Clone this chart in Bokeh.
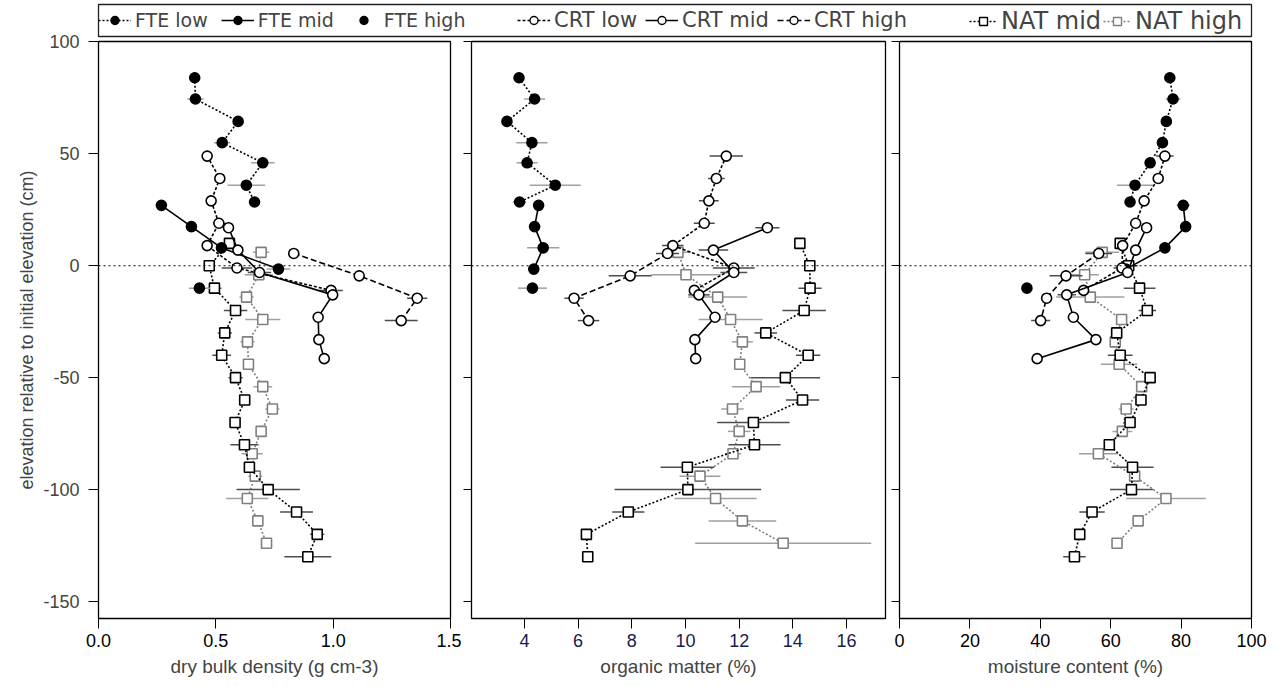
from bokeh.plotting import figure
from bokeh.models import (ColumnDataSource, FixedTicker, Legend, LegendItem, Span, Range1d, Title,
                          CustomLabelingPolicy)
from bokeh.layouts import column, row
from bokeh.embed import file_html
from bokeh.resources import INLINE

# ---------------- depths (elevation relative to initial elevation, cm) ----------------
fte_low_depth = [84, 74.5, 64.5, 55, 46, 36, 28.5]
fte_mid_depth = [27, 17.5, 8, -1.5]
fte_high_depth = [-10]
crt_low_depth = [49, 39, 29, 19, 9, -1, -11]
crt_mid_depth = [17, 7, -3, -13, -23, -33, -41.5]
crt_high_depth = [5.5, -4.5, -14.5, -24.5]
nat_mid_depth = [10, 0, -10, -20, -30, -40, -50, -60, -70, -80, -90, -100, -110, -120, -130]
nat_high_depth = [6, -4, -14, -24, -34, -44, -54, -64, -74, -84, -94, -104, -114, -124]

# ---------------- dry bulk density (g cm-3) ----------------
bd_fte_low = [0.41, 0.413, 0.595, 0.527, 0.70, 0.63, 0.665]
bd_fte_low_err = [0.01, 0.035, 0.01, 0.035, 0.05, 0.08, 0.01]
bd_fte_mid = [0.268, 0.396, 0.524, 0.767]
bd_fte_mid_err = [0.01, 0.01, 0.02, 0.05]
bd_fte_high = [0.43]
bd_fte_high_err = [0.045]
bd_crt_low = [0.463, 0.517, 0.48, 0.513, 0.463, 0.59, 0.991]
bd_crt_low_err = [0.005, 0.02, 0.005, 0.025, 0.01, 0.065, 0.05]
bd_crt_mid = [0.554, 0.594, 0.686, 0.998, 0.936, 0.939, 0.962]
bd_crt_mid_err = [0.01, 0.01, 0.05, 0.02, 0.01, 0.01, 0.01]
bd_crt_high = [0.832, 1.111, 1.358, 1.29]
bd_crt_high_err = [0.02, 0.02, 0.043, 0.07]
bd_nat_mid = [0.558, 0.472, 0.494, 0.584, 0.538, 0.525, 0.584, 0.623, 0.582, 0.622, 0.643, 0.723, 0.844, 0.932, 0.892]
bd_nat_mid_err = [0.01, 0.01, 0.03, 0.05, 0.03, 0.04, 0.03, 0.02, 0.01, 0.06, 0.01, 0.135, 0.07, 0.03, 0.1]
bd_nat_high = [0.693, 0.683, 0.631, 0.70, 0.635, 0.639, 0.70, 0.741, 0.693, 0.655, 0.668, 0.634, 0.679, 0.716]
bd_nat_high_err = [0.035, 0.06, 0.03, 0.075, 0.03, 0.02, 0.04, 0.03, 0.02, 0.045, 0.03, 0.09, 0.01, 0.01]

# ---------------- organic matter (%) ----------------
om_fte_low = [3.80, 4.38, 3.35, 4.28, 4.10, 5.15, 3.82]
om_fte_low_err = [0.05, 0.39, 0.1, 0.58, 0.39, 0.95, 0.25]
om_fte_mid = [4.53, 4.38, 4.70, 4.35]
om_fte_mid_err = [0.1, 0.22, 0.6, 0.2]
om_fte_high = [4.30]
om_fte_high_err = [0.54]
om_crt_low = [11.52, 11.15, 10.87, 10.70, 9.53, 11.80, 10.33]
om_crt_low_err = [0.62, 0.31, 0.37, 0.39, 0.4, 0.78, 0.2]
om_crt_mid = [13.05, 11.04, 11.80, 10.50, 11.10, 10.35, 10.38]
om_crt_mid_err = [0.45, 0.55, 0.5, 0.4, 0.2, 0.1, 0.1]
om_crt_high = [9.33, 7.94, 5.85, 6.39]
om_crt_high_err = [0.43, 0.8, 0.36, 0.4]
om_nat_mid = [14.26, 14.63, 14.64, 14.42, 12.99, 14.57, 13.72, 14.36, 12.53, 12.57, 10.07, 10.09, 7.87, 6.31, 6.36]
om_nat_mid_err = [0.1, 0.2, 0.43, 0.81, 0.42, 0.45, 1.29, 0.62, 1.35, 0.97, 1.0, 2.73, 0.6, 0.1, 0.1]
om_nat_high = [9.72, 10.02, 11.20, 11.68, 12.12, 12.02, 12.63, 11.75, 12.00, 11.77, 10.54, 11.12, 12.12, 13.64]
om_nat_high_err = [0.5, 1.3, 1.1, 1.19, 0.39, 0.2, 0.9, 0.42, 0.42, 0.3, 0.76, 1.53, 1.26, 3.28]

# ---------------- moisture content (%) ----------------
mc_fte_low = [76.8, 77.7, 75.8, 74.7, 71.2, 66.9, 65.5]
mc_fte_low_err = [0.5, 2.1, 0.5, 0.5, 0.8, 5.1, 0.5]
mc_fte_mid = [80.6, 81.3, 75.4, 64.3]
mc_fte_mid_err = [1.9, 0.5, 0.5, 1.0]
mc_fte_high = [36.2]
mc_fte_high_err = [0.5]
mc_crt_low = [75.4, 73.5, 69.5, 67.1, 63.4, 63.2, 52.3]
mc_crt_low_err = [2.5, 0.5, 0.5, 0.5, 1.0, 2.4, 0.5]
mc_crt_mid = [70.2, 67.1, 64.8, 47.5, 49.4, 55.8, 39.1]
mc_crt_mid_err = [0.5, 0.5, 1.0, 2.6, 0.5, 0.5, 0.5]
mc_crt_high = [56.6, 47.3, 41.8, 40.1]
mc_crt_high_err = [3.8, 4.7, 1.0, 2.7]
mc_nat_mid = [62.7, 65.1, 68.2, 70.4, 61.7, 62.7, 71.2, 68.6, 65.5, 59.6, 66.2, 65.9, 54.7, 51.2, 49.7]
mc_nat_mid_err = [0.3, 2.6, 4.5, 2.5, 1.0, 3.5, 0.8, 0.5, 0.5, 0.5, 6.0, 6.1, 3.6, 1.3, 3.2]
mc_nat_high = [57.6, 52.6, 54.2, 63.1, 61.3, 62.4, 68.8, 64.4, 63.3, 56.5, 66.8, 75.7, 67.8, 61.8]
mc_nat_high_err = [4.8, 4.0, 9.7, 1.2, 0.5, 5.2, 0.5, 2.1, 2.8, 5.5, 1.0, 11.3, 0.3, 0.3]

# ---------------- axis text ----------------
y_ticks = [100, 50, 0, -50, -100, -150]
y_tick_labels = {100: "100", 50: "50", 0: "0", -50: "-50", -100: "-100", -150: "-150"}
bd_ticks = [0.0, 0.5, 1.0, 1.5]
bd_tick_labels = {0.0: "0.0", 0.5: "0.5", 1.0: "1.0", 1.5: "1.5"}
om_ticks = [4, 6, 8, 10, 12, 14, 16]
mc_ticks = [0, 20, 40, 60, 80, 100]
y_title = "elevation relative to initial elevation (cm)"
bd_title = "dry bulk density (g cm-3)"
om_title = "organic matter (%)"
mc_title = "moisture content (%)"

BLACK = "#000000"
GREY = "#808080"
EB_BLACK = "#4d4d4d"
EB_GREY = "#a0a0a0"
AX_FONT = "Liberation Sans"

# style per series: (label, depth, colour, dash, marker, fill, error bar colour) - drawing order
styles = [
    ("NAT high", nat_high_depth, GREY, "2 2", "square", "white", EB_GREY),
    ("NAT mid", nat_mid_depth, BLACK, "2 2", "square", "white", EB_BLACK),
    ("FTE low", fte_low_depth, BLACK, "2 2", "circle", BLACK, EB_GREY),
    ("FTE mid", fte_mid_depth, BLACK, "solid", "circle", BLACK, EB_GREY),
    ("FTE high", fte_high_depth, BLACK, "none", "circle", BLACK, EB_GREY),
    ("CRT low", crt_low_depth, BLACK, "3 2", "circle", "white", EB_BLACK),
    ("CRT mid", crt_mid_depth, BLACK, "solid", "circle", "white", EB_BLACK),
    ("CRT high", crt_high_depth, BLACK, "6 3", "circle", "white", EB_BLACK),
]

bd_data = {"NAT high": (bd_nat_high, bd_nat_high_err), "NAT mid": (bd_nat_mid, bd_nat_mid_err),
           "CRT low": (bd_crt_low, bd_crt_low_err), "CRT mid": (bd_crt_mid, bd_crt_mid_err),
           "CRT high": (bd_crt_high, bd_crt_high_err), "FTE low": (bd_fte_low, bd_fte_low_err),
           "FTE mid": (bd_fte_mid, bd_fte_mid_err), "FTE high": (bd_fte_high, bd_fte_high_err)}
om_data = {"NAT high": (om_nat_high, om_nat_high_err), "NAT mid": (om_nat_mid, om_nat_mid_err),
           "CRT low": (om_crt_low, om_crt_low_err), "CRT mid": (om_crt_mid, om_crt_mid_err),
           "CRT high": (om_crt_high, om_crt_high_err), "FTE low": (om_fte_low, om_fte_low_err),
           "FTE mid": (om_fte_mid, om_fte_mid_err), "FTE high": (om_fte_high, om_fte_high_err)}
mc_data = {"NAT high": (mc_nat_high, mc_nat_high_err), "NAT mid": (mc_nat_mid, mc_nat_mid_err),
           "CRT low": (mc_crt_low, mc_crt_low_err), "CRT mid": (mc_crt_mid, mc_crt_mid_err),
           "CRT high": (mc_crt_high, mc_crt_high_err), "FTE low": (mc_fte_low, mc_fte_low_err),
           "FTE mid": (mc_fte_mid, mc_fte_mid_err), "FTE high": (mc_fte_high, mc_fte_high_err)}

hide_labels = CustomLabelingPolicy(code="""
    const ids = Array.from(indices)
    for (const i of ids) { indices.unset(i) }
""")

PLOT_H = 658      # plots overlap the legend strip by 12 px (transparent border)
TOP = 12


def make_panel(xr, xticks, xtitle, xtitle_offset, data, width, bl, br, first, xlabel_color, xoverrides=None):
    p = figure(width=width, height=PLOT_H, x_range=Range1d(*xr), y_range=Range1d(-157.6, 100.2),
               toolbar_location=None, output_backend="svg",
               min_border_left=bl, min_border_right=br, min_border_top=TOP, min_border_bottom=69)
    p.xgrid.visible = False
    p.ygrid.visible = False
    p.outline_line_color = BLACK
    p.outline_line_width = 1.3
    p.background_fill_color = "white"
    p.border_fill_alpha = 0

    xa = p.xaxis[0]
    xa.ticker = FixedTicker(ticks=xticks)
    if xoverrides:
        xa.major_label_overrides = xoverrides
    xa.axis_line_color = None
    xa.major_tick_in = 0
    xa.major_tick_out = 10
    xa.minor_tick_line_color = None
    xa.major_tick_line_color = BLACK
    xa.major_label_text_font = AX_FONT
    xa.major_label_text_font_size = "18px"
    xa.major_label_text_color = xlabel_color
    xa.major_label_standoff = 5
    p.add_layout(Title(text=xtitle, align="center", offset=xtitle_offset, text_font=AX_FONT,
                       text_font_size="19px", text_font_style="normal", standoff=9), "below")

    ya = p.yaxis[0]
    ya.ticker = FixedTicker(ticks=y_ticks)
    ya.axis_line_color = None
    ya.major_tick_in = 0
    ya.minor_tick_line_color = None
    ya.major_tick_line_color = BLACK
    if first:
        ya.major_label_overrides = y_tick_labels
        ya.major_tick_out = 10
        ya.major_label_text_font = AX_FONT
        ya.major_label_text_font_size = "18px"
        ya.major_label_standoff = 9
        p.add_layout(Title(text=y_title, align="center", offset=62, text_font=AX_FONT,
                           text_font_size="18px", text_font_style="normal", standoff=8), "left")
    else:
        ya.major_tick_out = 8
        ya.major_label_text_font_size = "0px"
        ya.major_label_standoff = 0
        ya.major_label_policy = hide_labels

    p.add_layout(Span(location=0, dimension="width", line_color=BLACK, line_dash="2 3", line_width=1))

    for (lab, depth, col, dash, mk, fill, ebc) in styles:
        vals, errs = data[lab]
        src = ColumnDataSource(dict(y=depth, lo=[v - e for v, e in zip(vals, errs)],
                                    hi=[v + e for v, e in zip(vals, errs)]))
        p.segment(x0="lo", x1="hi", y0="y", y1="y", source=src, line_color=ebc, line_width=1.5)
        if dash != "none":
            p.line("x", "y", source=ColumnDataSource(dict(x=vals, y=depth)), line_color=col,
                   line_dash=dash, line_width=1.6)
        p.scatter("x", "y", source=ColumnDataSource(dict(x=vals, y=depth)), marker=mk, size=10,
                  fill_color=fill, line_color=col, line_width=1.6)
    return p


p1 = make_panel((0.0, 1.5), bd_ticks, bd_title, -18, bd_data, 461, 98, 11, True, BLACK, bd_tick_labels)
p2 = make_panel((2.03, 17.45), om_ticks, om_title, -6, om_data, 430, 10, 6, False, "#1a1a4d")
p3 = make_panel((0.0, 100.0), mc_ticks, mc_title, 3, mc_data, 382, 7, 22, False, BLACK)

# ---------------- legend strip ----------------
lf = figure(width=1273, height=41, x_range=Range1d(0, 1), y_range=Range1d(0, 1),
            toolbar_location=None, output_backend="svg", x_axis_location=None, y_axis_location=None,
            min_border_left=98, min_border_right=22, min_border_top=4, min_border_bottom=5)
lf.xgrid.visible = False
lf.ygrid.visible = False
lf.outline_line_color = "#222222"
lf.outline_line_width = 1.3
lf.margin = (0, 0, -TOP, 0)

style_map = {s[0]: s for s in styles}
NAN = float("nan")


def legend_item(label):
    (lab, depth, col, dash, mk, fill, ebc) = style_map[label]
    rs = []
    if dash != "none":
        rs.append(lf.line("x", "y", source=ColumnDataSource(dict(x=[NAN], y=[NAN])), line_color=col,
                          line_dash=dash, line_width=1.4))
    rs.append(lf.scatter("x", "y", source=ColumnDataSource(dict(x=[NAN], y=[NAN])), marker=mk, size=9,
                         fill_color=fill, line_color=col, line_width=1.4))
    return LegendItem(label=label, renderers=rs)


def make_legend(labels, loc, size, spacing, gw, lh):
    lg = Legend(items=[legend_item(l) for l in labels], location=loc, orientation="horizontal",
                label_text_font="DejaVu Sans", label_text_font_size=size, glyph_width=gw,
                glyph_height=20, label_standoff=4, spacing=spacing, padding=2, margin=0,
                border_line_color=None, background_fill_alpha=0, label_height=lh)
    lf.add_layout(lg)
    return lg


make_legend(["FTE low", "FTE mid", "FTE high"], (0, 4), "19px", 13, 33, 24)
make_legend(["CRT low", "CRT mid", "CRT high"], (419, 3), "21px", 8, 33, 26)
make_legend(["NAT mid", "NAT high"], (871, 1), "24px", 2, 28, 28)

layout = column(lf, row(p1, p2, p3))
open("out.html", "w").write(file_html(layout, INLINE))
